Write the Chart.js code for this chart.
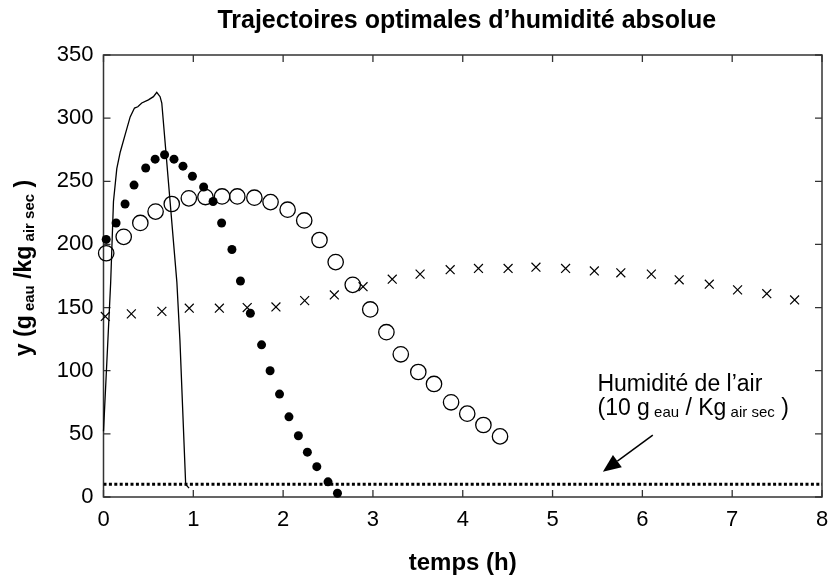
<!DOCTYPE html>
<html>
<head>
<meta charset="utf-8">
<script src="https://cdn.jsdelivr.net/npm/chart.js@4/dist/chart.umd.min.js"></script>
<style>
  html, body { margin: 0; padding: 0; background: #fff; }
  #wrap { width: 831px; height: 575px; }
</style>
</head>
<body>
<div id="wrap"><canvas id="chart" width="831" height="575"></canvas></div>
<script>
// Axis ticks
const xTicks = [0, 1, 2, 3, 4, 5, 6, 7, 8];
const yTicks = [0, 50, 100, 150, 200, 250, 300, 350];

// Continuous trajectory (solid line)
const controlTime = [0, 0.08, 0.111, 0.148, 0.186, 0.241, 0.297, 0.345, 0.382, 0.426, 0.5, 0.556, 0.593, 0.63, 0.649, 0.817, 0.851, 0.915, 0.953];
const controlY    = [52, 170, 234, 260, 273, 287, 301, 308, 309, 312, 314.5, 317, 320.5, 317, 312, 170, 124, 10, 7];

// Filled-dot trajectory
const filledTime = [0.03, 0.14, 0.24, 0.34, 0.47, 0.575, 0.68, 0.785, 0.885, 0.99, 1.115, 1.22, 1.315, 1.43, 1.525, 1.635, 1.76, 1.855, 1.96, 2.065, 2.17, 2.27, 2.375, 2.5, 2.605];
const filledY    = [204, 217, 232, 247, 260.5, 267.5, 271, 267.5, 262, 254, 245.5, 234, 217, 196, 171, 145.5, 120.5, 100, 81.5, 63.5, 48.5, 35.5, 24, 12, 3];

// Open-circle trajectory
const openTime = [0.03, 0.225, 0.41, 0.58, 0.76, 0.95, 1.135, 1.32, 1.49, 1.68, 1.86, 2.05, 2.235, 2.405, 2.585, 2.775, 2.97, 3.15, 3.31, 3.505, 3.68, 3.87, 4.05, 4.23, 4.415];
const openY    = [193, 206, 217, 226, 232, 236.5, 237.5, 238, 238, 237, 233.5, 227.5, 219, 203.5, 186, 168, 148.5, 130.5, 113, 99, 89.5, 75, 66, 57, 48];

// Cross trajectory
const crossTime = [0.02, 0.31, 0.65, 0.955, 1.29, 1.6, 1.92, 2.24, 2.57, 2.89, 3.215, 3.525, 3.86, 4.175, 4.505, 4.815, 5.145, 5.465, 5.76, 6.1, 6.41, 6.745, 7.06, 7.385, 7.695];
const crossY    = [143, 145, 147, 149.5, 149.5, 150, 150.5, 155.5, 160, 166.5, 172.5, 176.5, 180, 181, 181, 182, 181, 179, 177.5, 176.5, 172, 168.5, 164, 161, 156];

// Ambient air humidity (g eau / kg air sec)
const airHumidity = 10;
const airSpan = [0, 8];

// Arrow pointing at the air humidity line (data coordinates: tail, tip)
const arrowTail = [6.116, 49];
const arrowTip  = [5.56, 20];
// Anchor of the annotation text (data coordinates)
const noteAnchor = [5.5, 84];

const FONT = '"Liberation Sans", Arial, Helvetica, sans-serif';

const pts = (xs, ys) => xs.map((x, i) => ({ x: x, y: ys[i] }));

const framePlugin = {
  id: 'frame',
  beforeDatasetsDraw(chart) {
    const { ctx, chartArea: a, scales } = chart;
    const tl = 7;
    ctx.save();
    ctx.strokeStyle = '#333';
    ctx.lineWidth = 1.5;
    ctx.strokeRect(a.left, a.top, a.right - a.left, a.bottom - a.top);
    ctx.lineWidth = 1.3;
    ctx.beginPath();
    xTicks.forEach(v => {
      const px = scales.x.getPixelForValue(v);
      ctx.moveTo(px, a.bottom); ctx.lineTo(px, a.bottom - tl);
      ctx.moveTo(px, a.top); ctx.lineTo(px, a.top + tl);
    });
    yTicks.forEach(v => {
      const py = scales.y.getPixelForValue(v);
      ctx.moveTo(a.left, py); ctx.lineTo(a.left + tl, py);
      ctx.moveTo(a.right, py); ctx.lineTo(a.right - tl, py);
    });
    ctx.stroke();
    ctx.restore();
  },
  afterDraw(chart) {
    const { ctx, chartArea: a, scales } = chart;
    ctx.save();
    ctx.fillStyle = '#000';

    // Title
    ctx.font = 'bold 25px ' + FONT;
    ctx.textAlign = 'center';
    ctx.textBaseline = 'middle';
    ctx.fillText('Trajectoires optimales d\u2019humidit\u00e9 absolue', (a.left + a.right) / 2 + 4, 21);

    // Y axis title with subscripts, rotated
    const big = 'bold 23px ' + FONT;
    const small = 'bold 15px ' + FONT;
    const parts = [
      ['y (g', big, 0], [' eau', small, 3], [' /kg', big, 0], [' air sec', small, 3], [' )', big, 0]
    ];
    let total = 0;
    parts.forEach(p => { ctx.font = p[1]; total += ctx.measureText(p[0]).width; });
    ctx.translate(31, 268);
    ctx.rotate(-Math.PI / 2);
    ctx.textAlign = 'left';
    ctx.textBaseline = 'alphabetic';
    let cx = -total / 2;
    parts.forEach(p => {
      ctx.font = p[1];
      ctx.fillText(p[0], cx, p[2]);
      cx += ctx.measureText(p[0]).width;
    });
    ctx.setTransform(1, 0, 0, 1, 0, 0);

    // Annotation text
    const nx = scales.x.getPixelForValue(noteAnchor[0]);
    const ny = scales.y.getPixelForValue(noteAnchor[1]);
    ctx.textAlign = 'left';
    ctx.textBaseline = 'alphabetic';
    ctx.font = '23px ' + FONT;
    ctx.fillText('Humidit\u00e9 de l\u2019air', nx, ny);
    const nb = '23px ' + FONT, ns = '15px ' + FONT;
    const line2 = [['(10 g', nb, 0], [' eau', ns, 2], [' / Kg', nb, 0], [' air sec', ns, 2], [' )', nb, 0]];
    let lx = nx;
    line2.forEach(p => {
      ctx.font = p[1];
      ctx.fillText(p[0], lx, ny + 24 + p[2]);
      lx += ctx.measureText(p[0]).width;
    });

    // Arrow
    const x0 = scales.x.getPixelForValue(arrowTail[0]);
    const y0 = scales.y.getPixelForValue(arrowTail[1]);
    const x1 = scales.x.getPixelForValue(arrowTip[0]);
    const y1 = scales.y.getPixelForValue(arrowTip[1]);
    const ang = Math.atan2(y1 - y0, x1 - x0);
    const hl = 18, hw = 7.5;
    const bx = x1 - hl * Math.cos(ang), by = y1 - hl * Math.sin(ang);
    ctx.strokeStyle = '#000';
    ctx.lineWidth = 1.5;
    ctx.beginPath();
    ctx.moveTo(x0, y0);
    ctx.lineTo(bx, by);
    ctx.stroke();
    ctx.beginPath();
    ctx.moveTo(x1, y1);
    ctx.lineTo(bx + hw * Math.sin(ang), by - hw * Math.cos(ang));
    ctx.lineTo(bx - hw * Math.sin(ang), by + hw * Math.cos(ang));
    ctx.closePath();
    ctx.fill();
    ctx.restore();
  }
};

new Chart(document.getElementById('chart'), {
  type: 'scatter',
  data: {
    datasets: [
      {
        type: 'line',
        data: pts(controlTime, controlY),
        borderColor: '#000', borderWidth: 1.3, pointRadius: 0,
        tension: 0, fill: false, clip: false
      },
      {
        type: 'line',
        data: airSpan.map(x => ({ x: x, y: airHumidity })),
        borderColor: '#000', borderWidth: 3, borderDash: [3, 2.4], borderCapStyle: 'butt',
        pointRadius: 0, fill: false
      },
      {
        data: pts(filledTime, filledY),
        pointStyle: 'circle', pointRadius: 4.5,
        backgroundColor: '#000', borderColor: '#000', borderWidth: 0, clip: false
      },
      {
        data: pts(openTime, openY),
        pointStyle: 'circle', pointRadius: 7.7,
        backgroundColor: 'rgba(0,0,0,0)', borderColor: '#000', borderWidth: 1.3, clip: false
      },
      {
        data: pts(crossTime, crossY),
        pointStyle: 'crossRot', pointRadius: 6.3,
        borderColor: '#000', borderWidth: 1.2, clip: false
      }
    ]
  },
  options: {
    responsive: false,
    animation: false,
    devicePixelRatio: 1,
    layout: { padding: { top: 55, right: 0, left: 0, bottom: 0 } },
    plugins: { legend: { display: false }, tooltip: { enabled: false }, title: { display: false } },
    scales: {
      x: {
        type: 'linear', min: 0, max: 8,
        afterBuildTicks: s => { s.ticks = xTicks.map(v => ({ value: v })); },
        ticks: { font: { family: FONT, size: 22 }, color: '#000', padding: 10 },
        grid: { display: false, drawTicks: false },
        border: { display: false },
        title: { display: true, text: 'temps (h)', color: '#000', font: { family: FONT, size: 24, weight: 'bold' }, padding: { top: 0, bottom: -3 } },
        afterFit: s => { s.height = 78; s.paddingLeft = 0; s.paddingRight = 8; }
      },
      y: {
        type: 'linear', min: 0, max: 350,
        afterBuildTicks: s => { s.ticks = yTicks.map(v => ({ value: v })); },
        ticks: { font: { family: FONT, size: 22 }, color: '#000', padding: 10 },
        grid: { display: false, drawTicks: false },
        border: { display: false },
        afterFit: s => { s.width = 103.5; }
      }
    }
  },
  plugins: [framePlugin]
});
</script>
</body>
</html>
